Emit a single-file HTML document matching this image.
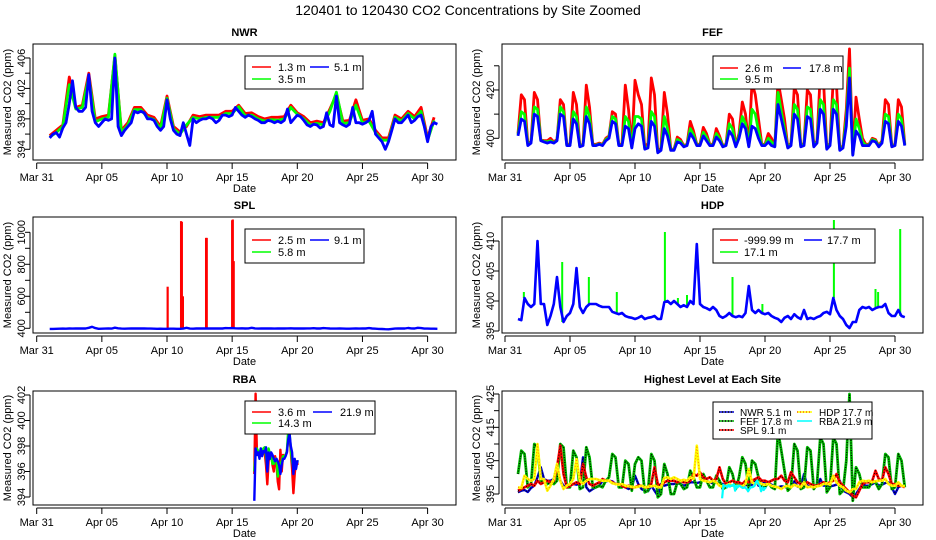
<!DOCTYPE html>
<html><head><meta charset="utf-8"><style>
html,body{margin:0;padding:0;background:#fff;}
svg{display:block;font-family:"Liberation Sans",Arial,sans-serif;}
</style></head><body>
<svg id="chart" width="936" height="540" viewBox="0 0 936 540" xmlns="http://www.w3.org/2000/svg">
<rect x="0" y="0" width="936" height="540" fill="#fff"/>
<text x="468" y="15" text-anchor="middle" font-size="14">120401  to  120430 CO2 Concentrations by Site Zoomed</text>
</svg>
<script>
// ---- shared axis data ----
const dateTickDays = [0,5,10,15,20,25,30];
const dateTickLabels = ["Mar 31","Apr 05","Apr 10","Apr 15","Apr 20","Apr 25","Apr 30"];

// ---- NWR (uniform grid, day 1.0 step 0.25 / 0.5) ----
const nwrStart = 1.0;
const nwrStep = 0.25;
const nwrCoarseStep = 0.5;
const nwr51 = [395.5,396,396.2,395.6, 396.8,397.5,400,403, 399.5,399,399,399.5, 403.8,399,397.5,397, 397.5,398,397.8,398,
 406,397,395.8,396.5, 397,397.5,399,398.8, 399,398.8,398,398, 397.8,397,396.5,397, 400.5,398,396.5,396,
 395.8,397.5,396,394.5, 398,397.5,397.8,398, 398,398.2,398,397.5, 397.8,398.5,398.5,398.3, 398.5,399.5,399,398.5,
 398.2,398.5,398.3,398, 397.8,397.5,397.5,397.8, 397.7,397.5,397.7,397.5, 397.8,399.3,397.5,398, 398.5,398.3,397.8,397.2,
 397,397.3,397.2,396.8, 397,398.8,397.2,397, 401,397.5,397.2,397, 397.3,399.5,397.5,397.5, 397.3,397.5,397.8,399,
 396,395.5,395,394, 395,396.5,398,397.5, 397.5,398,398.5,397.5, 397.8,398.3,398.5,397, 395,397,397.5,397.3];
const nwr13 = [395.8,396.5, 397.2,403.5, 399.5,399.8, 404,398, 398.3,398.5, 406.3,396.5, 397.5,399.5, 399.5,398.5, 398.2,397,
 401,397, 396.3,397, 398.5,398.3, 398.5,398.5, 398.5,399, 399,399.8, 398.7,398.8, 398.3,398, 398.2,398.2, 398.3,399.8,
 398.8,398.3, 397.5,397.7, 397.5,399.3, 401.2,397.7, 397.8,400.5, 397.8,398, 396.5,395.5, 395.5,398.5, 398,399, 398.3,399.5, 395.5,398.2];
const nwr35 = [395.6,396.2, 397,402.5, 399.3,399.5, 403.5,397.6, 398,398.2, 406.5,396.2, 397.2,399.2, 399.2,398.2, 397.9,396.7,
 400.7,396.7, 396,397.2, 398.2,398, 398.2,398.2, 398.2,398.7, 398.7,399.6, 398.4,398.5, 398,397.7, 397.9,397.8, 398,399.5,
 398.6,398, 397.2,397.4, 397.2,399, 401.5,397.4, 397.5,399.8, 397.5,397.7, 396.2,395.2, 395.2,398.2, 397.7,398.7, 398,399, 395.2,397.8];

// ---- FEF ----
const fefStart = 1.0;
const fefStep = 0.25;
const fef178 = [401,408,407,397, 398,410,409,399, 398.5,398,398.5,398, 399,410,409,397, 397,408,406,396.5, 397,409,406,397,
 397,397.5,397,399, 400,407,406,397, 397,405,404,396, 404,406,405,395.5, 396,407,405,394, 395,404,401,395, 395,398.5,398,396.5,
 397,402,400,397, 397,401,399,397, 397,400.5,399,396.5, 397,403,401,396.5, 400,406,404,396.5, 405,404,400,397, 397,398.5,397,396.5,
 414,408,402,396, 397,410,408,396.5, 397,409,408,396.5, 398,412,410,395.5, 397,412,410,395, 396,405,425,393, 403,401,397,397,
 397,399,398.5,396.5, 398,407,406,396.5, 397,407,405,397];
const fef26 = [402,418,416,398, 398.5,419,416,399.5, 399,399,400,398.5, 399.5,416,414,397.5, 397.5,419,414,397, 397.5,422,413,397.5,
 397.5,398,397.5,400, 401,411,410,397.5, 397.5,422,412,396.5, 424,418,414,396, 398,425,418,394.5, 396,419,410,395.5, 395.5,400.5,399.5,397,
 397.5,407,403,397.5, 397.5,404.5,402,397.5, 397.5,404,401,397, 397.5,410,408,397, 402,415,410,397, 423,418,408,397.5, 397.5,402,400,397,
 424,416,408,396.5, 398,421,418,397, 398,420,418,397, 399,427,424,396, 398,425,422,395.5, 397,412,437,393.5, 417,408,400,397.5,
 397.5,400,399.5,397, 399,416,414,397, 397.5,416,413,397.5];
const fef95 = [401.5,411,410,397.5, 398.2,413,412,399.2, 398.7,398.5,399,398.2, 399.2,413,411,397.2, 397.2,411,409,396.7, 397.2,413,409,397.2,
 397.2,397.7,397.2,399.5, 400.5,409,408,397.2, 397.2,409,407,396.2, 409,409,408,395.7, 396.5,411,409,394.2, 395.3,409,404,395.2, 395.2,399.5,398.7,396.7,
 397.2,404,401.5,397.2, 397.2,402.5,400.5,397.2, 397.2,402,400,396.7, 397.2,406,404,396.7, 401,409,406,396.7, 412,410,403,397.2, 397.2,400,398.5,396.7,
 419,411,404,396.2, 397.5,414,412,396.7, 397.5,413,412,396.7, 398.5,416,414,395.7, 397.5,416,414,395.2, 396.5,408,429,393.2, 408,404,398.5,397.2,
 397.2,399.5,399,396.7, 398.5,410,409,396.7, 397.2,410,408,397.2];

// ---- SPL ----
const splStart = 1.0;
const splStep = 0.25;
const spl91 = [396,396.5,397,397.5, 398,397.5,399,398, 398.5,399,398.5,399, 403,409.5,401,397, 397.5,398,398.5,398, 404,400,398,397.5,
 398,398.5,399.5,399, 399,398.5,398,398, 397.5,397,397.5,397, 397,397.5,397.5,397, 397,398,403,398, 397.5,398.5,399,399,
 399,398.5,399,398.5, 398.5,399,401,400.5, 401.5,400,399.5,400, 399,399.5,403,399.5, 398,398.5,399,398.5, 398.5,398,399,398.5,
 399,399.5,400,399, 399,398.5,399,399.5, 399.5,400.5,399,398.5, 401.5,400,398.5,398, 398,398.5,398,397.5, 397.5,398,398.5,398,
 398.5,399,401,398.5, 397.5,396.5,395.5,394.5, 394,396,398,398.5, 398.5,399,402,399.5, 399,403,401,398, 398,397.5,397.5,397];
const splRedSpikeT = [10.05,11.08,11.14,11.22,13.0,13.05,15.0,15.05,15.12];
const splRedSpikeV = [660,1070,1065,600,965,965,1075,1080,820];

// ---- HDP ----
const hdpStart = 1.0;
const hdpStep = 0.25;
const hdp177 = [397,396.8,400.5,399.5, 399,399.5,410,399.5, 399.5,396,397.5,399.5, 404,399,396.5,397.5, 398,399.5,405.5,399,
 398,399,399.5,399.5, 399.5,399.2,399,399, 399,398.2,398,397.8, 398,397.5,397.3,397.2, 397,397.2,397.5,397,
 397.2,397.3,397.5,397, 397,399.8,400,399.5, 400,399.5,399,399.3, 399,400,399.5,409.5, 399.5,399,398.8,398.5,
 399,398.5,397.5,397.2, 397.5,398,397.5,397.3, 397.5,397.3,398,402.5, 398.5,398,398.5,398, 397.8,398,397.5,397.2,
 397,396.5,397.2,397.5, 397,397.8,397.3,397, 398.5,397,397.2,397, 397.3,397.5,398,398.2, 397.8,400.5,398.5,397.5,
 397,396,395.5,396.5, 396.5,398.5,399,398.8, 399,398.5,398.8,399, 399,399.5,398,397.5, 397.5,398.5,397.5,397.3];
const hdpGreenSpikeT = [1.45,4.4,6.45,8.6,12.3,13.3,14.0,17.5,19.8,25.3,28.5,28.7,30.4];
const hdpGreenSpikeV = [401.5,406.5,404,401.5,411.5,400.5,401,404,399.5,413.5,402,401.5,412];

// ---- RBA ----
const rbaStart = 16.7;
const rbaStep = 0.1;
const rba219 = [393.7,397.8,397.3,397.5,397.0,397.8,397.2,397.6,397.5,397.9,396,397.5,397,397.5,397.3,397.0,396.8,397,
 396.8,396.5,395.8,396.5,397,397,397.2,397.5,398.5,399,398,397.5,395.8,397,396.2,396.8,396.8];
const rba36 = [395.8,402.1,397.5,397.3,397.2,397.5,397.4,397.4,397.5,396.5,395,396.8,397.4,397.3,396.5,396,397.2,396.5,
 395.2,394.6,397.7,396,397.3,397.2,397.3,397.5,398.8,398.8,397.5,396.2,394.3,395.8,396.8,396.6,396.6];
const rba143 = [396,397.5,397.8,397.6,397.3,397.8,397.5,397.8,397.9,397.2,396.3,397.8,397.4,397.2,396.6,396.6,397.0,397,
 395.6,396.2,396.6,396.8,397.2,397.2,397.3,397.6,399.2,399.1,397.8,396.8,396.2,396.8,396.6,396.8,396.8];

// ---- y tick data ----
const nwrTicks = [394,396,398,400,402,404,406];
const nwrTickLabels = ["394","","398","","402","","406"];
const fefTicks = [400,410,420,430];
const fefTickLabels = ["400","","420",""];
const splTicks = [400,500,600,700,800,900,1000];
const splTickLabels = ["400","","600","","800","","1000"];
const hdpTicks = [395,400,405,410];
const hdpTickLabels = ["395","400","405","410"];
const rbaTicks = [394,396,398,400,402];
const rbaTickLabels = ["394","396","398","400","402"];
const highTicks = [395,400,405,410,415,420,425];
const highTickLabels = ["395","","405","","415","","425"];

const NS = "http://www.w3.org/2000/svg";
const svg = document.getElementById('chart');
function mk(tag, attrs, parent){
  const e = document.createElementNS(NS, tag);
  for (const k in attrs) e.setAttribute(k, attrs[k]);
  (parent||svg).appendChild(e);
  return e;
}

function makePanel(p){
  const g = mk('g', {});
  
  
  const xf = d => p.xMar31 + d * p.pxDay;
  const yf = v => p.yRef - (v - p.vRef) * p.k;
  const box = mk('rect', {x:p.x0, y:p.y0, width:p.x1-p.x0, height:p.y1-p.y0, fill:'none', stroke:'#000', 'stroke-width':1}, g);
  
  
  const t = mk('text', {x:(p.x0+p.x1)/2, y:p.y0-8, 'text-anchor':'middle', 'font-size':11, 'font-weight':'bold'}, g);
  t.textContent = p.title;
  
  
  const ax = mk('g', {}, g);
  
  
  const ay0 = p.y1 + 3;
  mk('line', {x1:xf(dateTickDays[0]), x2:xf(dateTickDays[dateTickDays.length-1]), y1:ay0, y2:ay0, stroke:'#000'}, ax);
  dateTickDays.forEach((d,i)=>{
    mk('line', {x1:xf(d), x2:xf(d), y1:ay0, y2:ay0+6, stroke:'#000'}, ax);
    const tl = mk('text', {x:xf(d), y:ay0+18, 'text-anchor':'middle', 'font-size':11}, ax);
    tl.textContent = dateTickLabels[i];
    
    
  });
  const dl = mk('text', {x:(p.x0+p.x1)/2, y:ay0+29, 'text-anchor':'middle', 'font-size':11}, g);
  dl.textContent = 'Date';
  
  
  const yx = p.x0 - 3;
  const yg = mk('g', {}, g);
  
  
  mk('line', {x1:yx, x2:yx, y1:yf(p.ticks[0]), y2:yf(p.ticks[p.ticks.length-1]), stroke:'#000'}, yg);
  p.ticks.forEach((v,i)=>{
    mk('line', {x1:yx-5, x2:yx, y1:yf(v), y2:yf(v), stroke:'#000'}, yg);
    if (p.tickLabels[i]) {
      const tl = mk('text', {x:0, y:0, 'text-anchor':'middle', 'font-size':11,
        transform:'translate(' + (p.x0-8) + ',' + yf(v) + ') rotate(-90)'}, yg);
      tl.textContent = p.tickLabels[i];
      
      
    }
  });
  const yt = mk('text', {x:0, y:0, 'text-anchor':'middle', 'font-size':11,
    transform:'translate(' + (p.x0-22) + ',' + ((p.y0+p.y1)/2) + ') rotate(-90)'}, g);
  yt.textContent = 'Measured CO2 (ppm)';
  
  
  const cp = mk('clipPath', {id:'clip-' + p.name}, g);
  mk('rect', {x:p.x0, y:p.y0, width:p.x1-p.x0, height:p.y1-p.y0}, cp);
  const plot = mk('g', {'clip-path':'url(#clip-' + p.name + ')'}, g);
  
  
  return {g, plot, xf, yf};
}

function gridLine(parent, P, start, step, vals, color, width, dash, name){
  const pts = vals.map((v,i)=> P.xf(start + i*step).toFixed(1) + ',' + P.yf(v).toFixed(1)).join(' ');
  const e = mk('polyline', {points:pts, fill:'none', stroke:color, 'stroke-width':width, 'stroke-linejoin':'round'}, parent);
  if (dash) e.setAttribute('stroke-dasharray', dash);
  
  
  return e;
}

function spikes(parent, P, ts, vs, base, color, width, name){
  ts.forEach((t,i)=>{
    const e = mk('line', {x1:P.xf(t), x2:P.xf(t), y1:P.yf(base(t)), y2:P.yf(vs[i]), stroke:color, 'stroke-width':width}, parent);
    
    
  });
}

function gridAt(start, step, vals){
  return t => { let i = Math.round((t-start)/step); i = Math.max(0, Math.min(vals.length-1, i)); return vals[i]; };
}

function legend(g, L){
  const lg = mk('g', {}, g);
  
  
  mk('rect', {x:L.x, y:L.y, width:L.w, height:L.h, fill:'#fff', stroke:'#000'}, lg);
  L.items.forEach(it=>{
    const ig = mk('g', {}, lg);
    
    
    mk('line', {x1:it.lx, x2:it.lx+L.len, y1:it.y, y2:it.y, stroke:it.c, 'stroke-width':1.5}, ig);
    if (it.dash) mk('line', {x1:it.lx, x2:it.lx+L.len, y1:it.y, y2:it.y, stroke:it.dc, 'stroke-width':1.5, 'stroke-dasharray':'1,2'}, ig);
    const tx = mk('text', {x:it.tx, y:it.y+4, 'font-size':L.fs}, ig);
    tx.textContent = it.t;
  });
}

const L = {x0:33, x1:456, xMar31:36.7, pxDay:13.03};
const R = {x0:502, x1:923, xMar31:505, pxDay:13.0};

{
  const P = makePanel(Object.assign({name:'nwr', title:'NWR', y0:44, y1:160, yRef:149.3, vRef:394, k:7.61, ticks:nwrTicks, tickLabels:nwrTickLabels}, L));
  legend(P.g, {name:'nwr-legend', x:245, y:56, w:118, h:33, len:19, fs:11, items:[
    {lx:252, tx:278, y:67, c:'#f00', t:'1.3 m'}, {lx:310, tx:334, y:67, c:'#00f', t:'5.1 m'}, {lx:252, tx:278, y:79, c:'#0f0', t:'3.5 m'}]});
  gridLine(P.plot, P, nwrStart, nwrCoarseStep, nwr13, '#f00', 2.8, null, 'nwr-1.3m-line');
  gridLine(P.plot, P, nwrStart, nwrCoarseStep, nwr35, '#0f0', 2.8, null, 'nwr-3.5m-line');
  gridLine(P.plot, P, nwrStart, nwrStep, nwr51, '#00f', 2.8, null, 'nwr-5.1m-line');
}
{
  const P = makePanel(Object.assign({name:'fef', title:'FEF', y0:44, y1:160, yRef:138.3, vRef:400, k:2.417, ticks:fefTicks, tickLabels:fefTickLabels}, R));
  legend(P.g, {name:'fef-legend', x:713, y:56, w:130, h:33, len:18, fs:11, items:[
    {lx:720, tx:745, y:68, c:'#f00', t:'2.6 m'}, {lx:783, tx:809, y:68, c:'#00f', t:'17.8 m'}, {lx:720, tx:745, y:79, c:'#0f0', t:'9.5 m'}]});
  gridLine(P.plot, P, fefStart, fefStep, fef26, '#f00', 2.8, null, 'fef-2.6m-line');
  gridLine(P.plot, P, fefStart, fefStep, fef95, '#0f0', 2.8, null, 'fef-9.5m-line');
  gridLine(P.plot, P, fefStart, fefStep, fef178, '#00f', 2.8, null, 'fef-17.8m-line');
}
{
  const P = makePanel(Object.assign({name:'spl', title:'SPL', y0:217, y1:333, yRef:328.3, vRef:400, k:0.16, ticks:splTicks, tickLabels:splTickLabels}, L));
  legend(P.g, {name:'spl-legend', x:245, y:229, w:119, h:34, len:19, fs:11, items:[
    {lx:252, tx:278, y:240, c:'#f00', t:'2.5 m'}, {lx:310, tx:334, y:240, c:'#00f', t:'9.1 m'}, {lx:252, tx:278, y:252, c:'#0f0', t:'5.8 m'}]});
  spikes(P.plot, P, splRedSpikeT, splRedSpikeV, ()=>400, '#f00', 2.2, 'spl-2.5m-spike');
  gridLine(P.plot, P, splStart, splStep, spl91, '#00f', 2.4, null, 'spl-9.1m-line');
}
{
  const P = makePanel(Object.assign({name:'hdp', title:'HDP', y0:217, y1:333, yRef:331, vRef:395, k:6.0, ticks:hdpTicks, tickLabels:hdpTickLabels}, R));
  legend(P.g, {name:'hdp-legend', x:713, y:229, w:162, h:34, len:18, fs:11, items:[
    {lx:720, tx:744, y:240, c:'#f00', t:'-999.99 m'}, {lx:804, tx:827, y:240, c:'#00f', t:'17.7 m'}, {lx:720, tx:744, y:252, c:'#0f0', t:'17.1 m'}]});
  spikes(P.plot, P, hdpGreenSpikeT, hdpGreenSpikeV, gridAt(hdpStart, hdpStep, hdp177), '#0f0', 2, 'hdp-17.1m-spike');
  gridLine(P.plot, P, hdpStart, hdpStep, hdp177, '#00f', 2.6, null, 'hdp-17.7m-line');
}
{
  const P = makePanel(Object.assign({name:'rba', title:'RBA', y0:391, y1:505, yRef:497, vRef:394, k:12.75, ticks:rbaTicks, tickLabels:rbaTickLabels}, L));
  legend(P.g, {name:'rba-legend', x:245, y:401, w:130, h:33, len:19, fs:11, items:[
    {lx:252, tx:278, y:412, c:'#f00', t:'3.6 m'}, {lx:313, tx:340, y:412, c:'#00f', t:'21.9 m'}, {lx:252, tx:278, y:423, c:'#0f0', t:'14.3 m'}]});
  gridLine(P.plot, P, rbaStart, rbaStep, rba36, '#f00', 2.4, null, 'rba-3.6m-line');
  gridLine(P.plot, P, rbaStart, rbaStep, rba143, '#0f0', 2.4, null, 'rba-14.3m-line');
  gridLine(P.plot, P, rbaStart, rbaStep, rba219, '#00f', 2.4, null, 'rba-21.9m-line');
}
{
  const P = makePanel(Object.assign({name:'highest', title:'Highest Level at Each Site', y0:391, y1:505, yRef:494, vRef:395, k:3.333, ticks:highTicks, tickLabels:highTickLabels}, R));
  legend(P.g, {name:'highest-legend', x:713, y:402, w:159, h:37, len:15, fs:10, items:[
    {lx:719, tx:740, y:412, c:'#00c', dash:true, dc:'#000', t:'NWR  5.1 m'},
    {lx:797, tx:819, y:412, c:'#ff0', dash:true, dc:'#f60', t:'HDP   17.7 m'},
    {lx:719, tx:740, y:421, c:'#0a0', dash:true, dc:'#000', t:'FEF  17.8 m'},
    {lx:797, tx:819, y:421, c:'#0ff', t:'RBA  21.9 m'},
    {lx:719, tx:740, y:430, c:'#f00', dash:true, dc:'#000', t:'SPL  9.1 m'}]});
  gridLine(P.plot, P, nwrStart, nwrStep, nwr51, '#00c', 2.4, null, 'highest-nwr-line');
  gridLine(P.plot, P, nwrStart, nwrStep, nwr51, '#000', 1, '1,2', 'highest-nwr-dots');
  gridLine(P.plot, P, fefStart, fefStep, fef178, '#0b0', 2.8, null, 'highest-fef-line');
  gridLine(P.plot, P, fefStart, fefStep, fef178, '#000', 1.2, '1,1.5', 'highest-fef-dots');
  gridLine(P.plot, P, splStart, splStep, spl91, '#f00', 2.6, null, 'highest-spl-line');
  gridLine(P.plot, P, splStart, splStep, spl91, '#000', 1, '1,2', 'highest-spl-dots');
  gridLine(P.plot, P, hdpStart, hdpStep, hdp177, '#ff0', 2.6, null, 'highest-hdp-line');
  gridLine(P.plot, P, hdpStart, hdpStep, hdp177, '#f80', 1, '1,2', 'highest-hdp-dots');
  gridLine(P.plot, P, rbaStart, rbaStep, rba219, '#0ff', 2.2, null, 'highest-rba-line');
}
</script>
</body></html>
